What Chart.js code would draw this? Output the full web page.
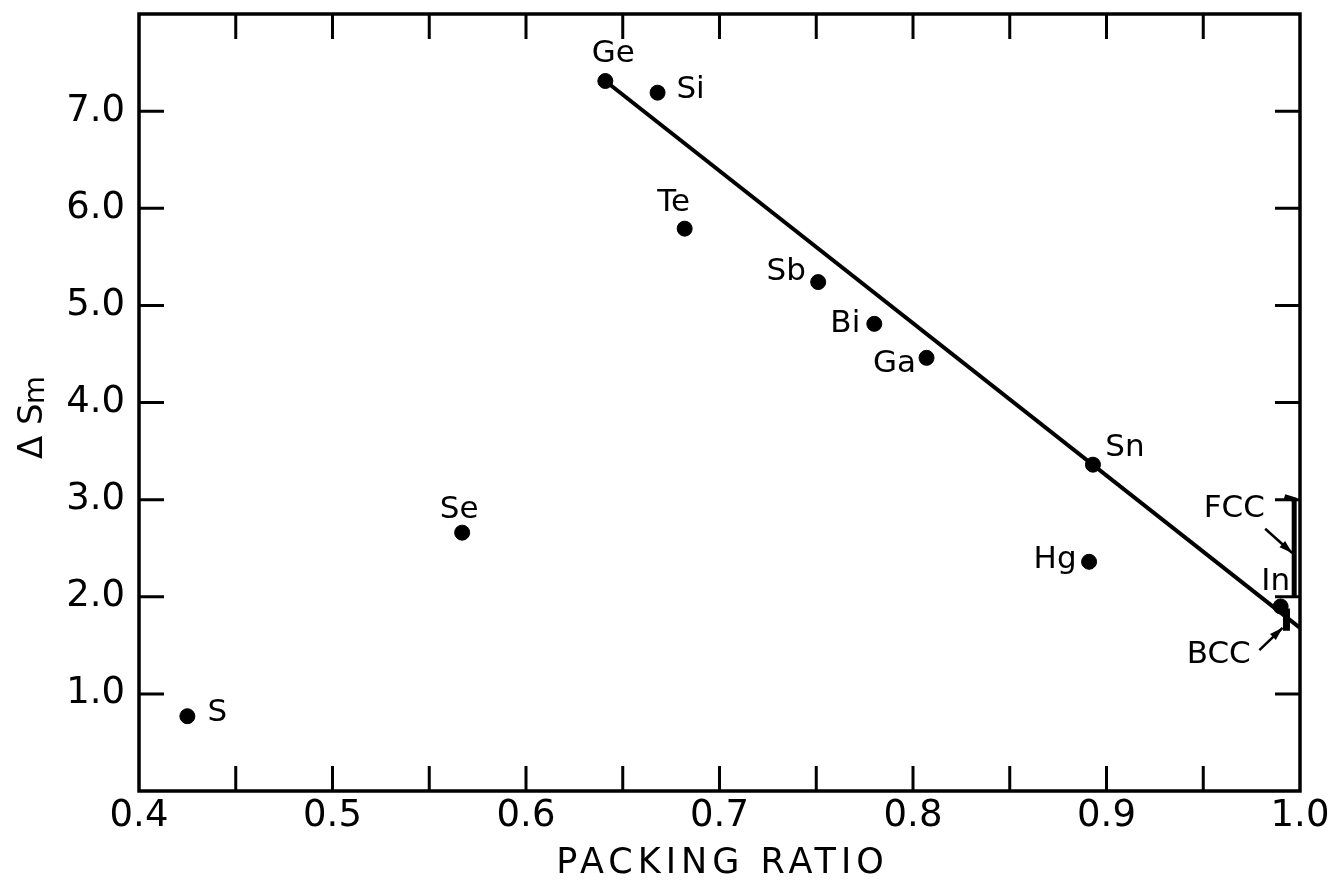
<!DOCTYPE html>
<html>
<head>
<meta charset="utf-8">
<script src="https://cdn.jsdelivr.net/npm/chart.js@4/dist/chart.umd.min.js"></script>
<style>
  html, body { margin: 0; padding: 0; background: #fff; }
  #wrap { position: relative; width: 1335px; height: 880px; }
</style>
</head>
<body>
<div id="wrap"><canvas id="grafico"></canvas></div>
<script>
// elementos e valores
const elementos = ['S', 'Se', 'Ge', 'Si', 'Te', 'Sb', 'Bi', 'Ga', 'Sn', 'Hg', 'In'];
const razaoEmpacotamento = [0.425, 0.567, 0.641, 0.668, 0.682, 0.751, 0.780, 0.807, 0.893, 0.891, 0.990];
const entropiaFusao = [0.77, 2.66, 7.31, 7.19, 5.79, 5.24, 4.81, 4.46, 3.36, 2.36, 1.90];

// reta ajustada
const retaX = [0.641, 1.0];
const retaY = [7.31, 1.68];

// faixas FCC e BCC junto ao eixo direito
const fccX = [0.992, 0.997, 0.997];
const fccY = [3.03, 3.0, 2.0];
const bccX = [0.993, 0.993];
const bccY = [1.88, 1.65];

// marcas dos eixos
const xTicksMenores = [0.45, 0.5, 0.55, 0.6, 0.65, 0.7, 0.75, 0.8, 0.85, 0.9, 0.95];
const yTicks = [1, 2, 3, 4, 5, 6, 7];

// deslocamento dos rótulos em pixels (dx, dy)
const deslocRotulos = {
    S: [30, -3], Se: [-3, -23], Ge: [8, -27], Si: [33, -3], Te: [-11, -26],
    Sb: [-32, -10], Bi: [-29, 0], Ga: [-32, 6], Sn: [32, -17], Hg: [-34, -2], In: [-5, -25]
};

// setas e textos FCC / BCC em coordenadas de dados
const anotacoes = [
    { texto: 'FCC', x: 0.966, y: 2.90, de: [0.982, 2.70], para: [0.996, 2.45] },
    { texto: 'BCC', x: 0.958, y: 1.40, de: [0.979, 1.45], para: [0.991, 1.68] }
];

const fonte = '"DejaVu Sans", sans-serif';
const pontos = (xs, ys) => xs.map((x, i) => ({ x: x, y: ys[i] }));

const molduraPlugin = {
    id: 'moldura',
    afterDatasetsDraw(chart) {
        const ctx = chart.ctx;
        const a = chart.chartArea;
        const sx = chart.scales.x, sy = chart.scales.y;
        const tam = 25;
        ctx.save();
        ctx.strokeStyle = '#000';
        ctx.lineWidth = 3.5;
        ctx.strokeRect(a.left, a.top, a.right - a.left, a.bottom - a.top);
        ctx.lineWidth = 3;
        ctx.beginPath();
        xTicksMenores.forEach(v => {
            const px = sx.getPixelForValue(v);
            ctx.moveTo(px, a.bottom); ctx.lineTo(px, a.bottom - tam);
            ctx.moveTo(px, a.top); ctx.lineTo(px, a.top + tam);
        });
        yTicks.forEach(v => {
            const py = sy.getPixelForValue(v);
            ctx.moveTo(a.left, py); ctx.lineTo(a.left + tam, py);
            ctx.moveTo(a.right, py); ctx.lineTo(a.right - tam, py);
        });
        ctx.stroke();

        // rótulos dos elementos
        ctx.fillStyle = '#000';
        ctx.font = '31px ' + fonte;
        ctx.textAlign = 'center';
        ctx.textBaseline = 'middle';
        const meta = chart.getDatasetMeta(0);
        meta.data.forEach((p, i) => {
            const nome = elementos[i];
            const d = deslocRotulos[nome] || [0, -25];
            ctx.fillText(nome, p.x + d[0], p.y + d[1]);
        });

        // FCC / BCC com setas
        anotacoes.forEach(an => {
            ctx.fillText(an.texto, sx.getPixelForValue(an.x), sy.getPixelForValue(an.y));
            const x1 = sx.getPixelForValue(an.de[0]), y1 = sy.getPixelForValue(an.de[1]);
            const x2 = sx.getPixelForValue(an.para[0]), y2 = sy.getPixelForValue(an.para[1]);
            const ang = Math.atan2(y2 - y1, x2 - x1);
            ctx.lineWidth = 2.5;
            ctx.beginPath();
            ctx.moveTo(x1, y1); ctx.lineTo(x2, y2);
            ctx.stroke();
            ctx.beginPath();
            ctx.moveTo(x2, y2);
            ctx.lineTo(x2 - 14 * Math.cos(ang - 0.3), y2 - 14 * Math.sin(ang - 0.3));
            ctx.lineTo(x2 - 14 * Math.cos(ang + 0.3), y2 - 14 * Math.sin(ang + 0.3));
            ctx.closePath();
            ctx.fill();
        });

        // título do eixo x, com espaçamento entre letras
        ctx.save();
        ctx.font = '35px ' + fonte;
        ctx.letterSpacing = '5px';
        ctx.textAlign = 'center';
        ctx.textBaseline = 'alphabetic';
        ctx.fillText('PACKING RATIO', (a.left + a.right) / 2 + 3, 873);
        ctx.restore();

        // título do eixo y: ΔS com índice m
        ctx.translate(42, (a.top + a.bottom) / 2 + 12);
        ctx.rotate(-Math.PI / 2);
        ctx.textAlign = 'left';
        ctx.textBaseline = 'alphabetic';
        ctx.font = '34px ' + fonte;
        const w = ctx.measureText('\u0394S').width;
        ctx.font = '29px ' + fonte;
        const wm = ctx.measureText('m').width;
        const x0 = -(w + wm + 4) / 2;
        ctx.font = '34px ' + fonte;
        ctx.fillText('\u0394 S', x0 - 6, 0);
        ctx.font = '29px ' + fonte;
        ctx.fillText('m', x0 + w + 4, 2);
        ctx.restore();
    }
};

new Chart(document.getElementById('grafico').getContext('2d'), {
    type: 'scatter',
    data: {
        datasets: [{
            label: 'elementos',
            data: pontos(razaoEmpacotamento, entropiaFusao),
            backgroundColor: '#000',
            borderColor: '#000',
            pointRadius: 7.5,
            clip: false
        }, {
            label: 'reta',
            data: pontos(retaX, retaY),
            showLine: true,
            borderColor: '#000',
            borderWidth: 4,
            pointRadius: 0,
            clip: false
        }, {
            label: 'FCC',
            data: pontos(fccX, fccY),
            showLine: true,
            borderColor: '#000',
            borderWidth: 5,
            pointRadius: 0,
            clip: false
        }, {
            label: 'BCC',
            data: pontos(bccX, bccY),
            showLine: true,
            borderColor: '#000',
            borderWidth: 7,
            pointRadius: 0,
            clip: false
        }]
    },
    options: {
        responsive: true,
        maintainAspectRatio: false,
        animation: false,
        events: [],
        layout: { padding: { top: 14, right: 35, bottom: 0, left: 0 } },
        plugins: { legend: { display: false }, tooltip: { enabled: false } },
        scales: {
            x: {
                type: 'linear',
                min: 0.4,
                max: 1.0,
                grid: { display: false, drawTicks: false },
                border: { display: false },
                ticks: {
                    stepSize: 0.1,
                    padding: 3,
                    color: '#000',
                    maxRotation: 0,
                    font: { family: fonte, size: 37 },
                    callback: v => Number(v).toFixed(1)
                },
                title: { display: false },
                afterFit: s => { s.height = 89; s.paddingLeft = 0; s.paddingRight = 0; }
            },
            y: {
                type: 'linear',
                min: 0,
                max: 8,
                grid: { display: false, drawTicks: false },
                border: { display: false },
                ticks: {
                    stepSize: 1,
                    padding: 14,
                    color: '#000',
                    font: { family: fonte, size: 37 },
                    callback: v => (v >= 1 && v <= 7) ? Number(v).toFixed(1) : ''
                },
                afterFit: s => { s.width = 139; s.paddingTop = 0; s.paddingBottom = 0; }
            }
        }
    },
    plugins: [molduraPlugin]
});
</script>
</body>
</html>
